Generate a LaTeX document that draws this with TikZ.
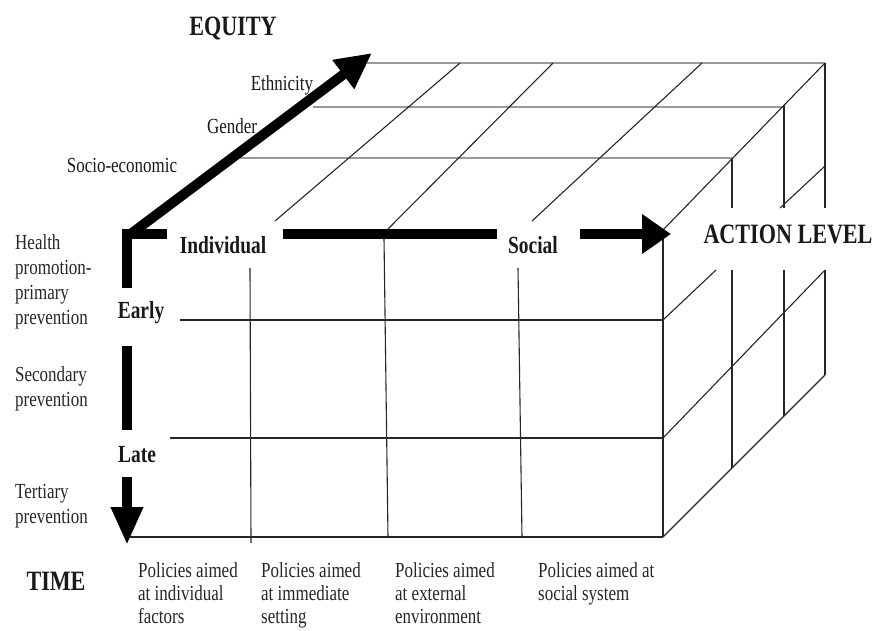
\documentclass[tikz,border=0pt]{standalone}
\usepackage{fontspec}
\setmainfont{Liberation Serif}[FakeStretch=0.79]
\usetikzlibrary{arrows.meta}
\newcommand\bigfnt{\fontsize{28}{30}\selectfont\bfseries}
\newcommand\medfnt{\fontsize{24.6}{27}\selectfont\bfseries}
\newcommand\smlfnt{\fontsize{21.5}{25}\selectfont}
\newcommand\polfnt{\fontsize{21.5}{23}\selectfont}
\tikzset{
  axisbar/.style={line width=10pt, line cap=butt, black},
  thinline/.style={line width=1.1pt, black!85},
  grayline/.style={line width=1.5pt, black!40},
  lab/.style={inner sep=0pt, text=black!90},
  block/.style={inner sep=0pt, align=left, anchor=north west, text=black!85},
}
\begin{document}
\begin{tikzpicture}[x=1pt,y=-1pt]
\useasboundingbox (0,0) rectangle (878,630);
% ---------- key corners ----------
\coordinate (O) at (127,234);
\coordinate (FTR) at (663,234);
\coordinate (FBR) at (663,537);
\coordinate (BTR) at (825,63);
\coordinate (BBR) at (825,375);
% ---------- top face ----------
\draw[grayline] (367,63) -- (BTR);
\draw[grayline] (313,107) -- (784,107);
\draw[grayline] (240,158) -- (732,158);
\draw[thinline] (275,221) -- (460,63);
\draw[thinline] (388,229) -- (553,63);
\draw[thinline] (532,221) -- (702,63);
\draw[thinline] (663,230) -- (BTR);
% ---------- right face ----------
\draw[thinline] (BTR) -- (825,208) (825,270) -- (BBR);
\draw[thinline] (784,105) -- (784,208) (784,270) -- (784,416);
\draw[thinline] (732,159) -- (732,208) (732,270) -- (732,468);
\draw[thinline] (663,320) -- (716,270) (780,208) -- (825,166);
\draw[thinline] (663,438) -- (825,270);
\draw[thinline] (FBR) -- (BBR);
% ---------- front face ----------
\draw[thinline] (663,234) -- (FBR);
\draw[thinline] (180,320) -- (663,320);
\draw[thinline] (170,438) -- (663,438);
\draw[thinline] (130,537) -- (FBR);
\draw[thinline] (250,268) -- (251,543);
\draw[thinline] (384,238) -- (388,537);
\draw[thinline] (518,268) -- (522,537);
% ---------- thick axes ----------
\draw[axisbar] (O) -- ++(0,0) ++(0,0);
\draw[axisbar, -{Triangle[length=36pt,width=34pt]}] (128,236) -- (372,53);
\draw[axisbar] (122,234) -- (167,234);
\draw[axisbar] (283,234) -- (497,234);
\draw[axisbar, -{Triangle[length=29pt,width=38pt]}] (580,234) -- (671,234);
\draw[axisbar] (127,229) -- (127,288);
\draw[axisbar] (127,346) -- (127,430);
\draw[axisbar, -{Triangle[length=38pt,width=30pt]}] (127,477) -- (127,545);
% ---------- axis titles ----------
\node[lab, font=\bigfnt, anchor=base] (equity) at (233,35) {EQUITY};
\node[lab, font=\bigfnt, anchor=base] (action) at (788,243) {ACTION LEVEL};
\node[lab, font=\bigfnt, anchor=base] (time) at (56,590) {TIME};
% ---------- bold labels ----------
\node[lab, font=\medfnt, anchor=base] (indiv) at (223,253) {Individual};
\node[lab, font=\medfnt, anchor=base] (social) at (533,253) {Social};
\node[lab, font=\medfnt, anchor=base] (early) at (141,318) {Early};
\node[lab, font=\medfnt, anchor=base] (late) at (137,462) {Late};
% ---------- equity labels ----------
\node[lab, font=\smlfnt, anchor=base] (eth) at (282,90) {Ethnicity};
\node[lab, font=\smlfnt, anchor=base] (gen) at (232,133) {Gender};
\node[lab, font=\smlfnt, anchor=base] (soc) at (122,172) {Socio-economic};
% ---------- time labels ----------
\node[block, font=\smlfnt] (hp) at (15,234) {Health\\promotion-\\primary\\prevention};
\node[block, font=\smlfnt] (sec) at (15,366) {Secondary\\prevention};
\node[block, font=\smlfnt] (ter) at (15,484) {Tertiary\\prevention};
% ---------- action labels ----------
\node[block, font=\polfnt] (p1) at (138,562) {Policies aimed\\at individual\\factors};
\node[block, font=\polfnt] (p2) at (261,562) {Policies aimed\\at immediate\\setting};
\node[block, font=\polfnt] (p3) at (395,562) {Policies aimed\\at external\\environment};
\node[block, font=\polfnt] (p4) at (538,562) {Policies aimed at\\social system};
\end{tikzpicture}
\end{document}
